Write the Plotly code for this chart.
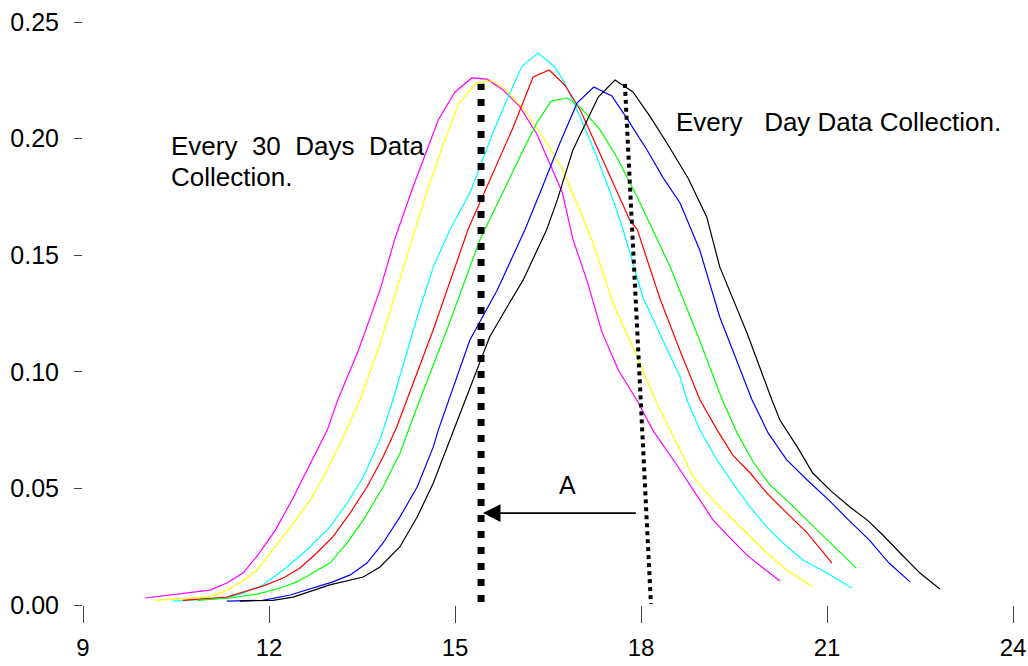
import plotly.graph_objects as go

# ---- data ----
magenta_x = [10.0, 11.05, 11.32, 11.58, 11.82, 12.10, 12.39, 12.69, 12.94, 13.11, 13.44, 13.79, 14.03, 14.32, 14.73,
             15.0, 15.27, 15.52, 15.77, 16.05, 16.32, 16.73, 16.90, 17.13, 17.37, 17.63, 17.94, 18.19, 18.63, 18.95,
             19.16, 19.44, 19.71, 19.97, 20.24]
magenta_y = [0.003, 0.0064, 0.0094, 0.0137, 0.0214, 0.032, 0.046, 0.062, 0.075, 0.088, 0.109, 0.135, 0.157, 0.179, 0.208,
             0.220, 0.226, 0.2255, 0.221, 0.2135, 0.202, 0.177, 0.157, 0.139, 0.117, 0.101, 0.0875, 0.075, 0.058, 0.045,
             0.0365, 0.0287, 0.0214, 0.0159, 0.0103]

yellow_x = [10.16, 11.0, 11.26, 11.53, 11.81, 12.06, 12.39, 12.69, 12.94, 13.15, 13.47, 13.79, 14.31, 14.52, 14.79,
            15.06, 15.35, 15.61, 15.81, 16.10, 16.42, 16.73, 16.97, 17.21, 17.55, 17.94, 18.23, 18.63, 18.84, 19.16,
            19.44, 19.71, 20.03, 20.35, 20.77]
yellow_y = [0.002, 0.0034, 0.0056, 0.0094, 0.015, 0.0236, 0.035, 0.046, 0.058, 0.0695, 0.088, 0.112, 0.1565, 0.175, 0.196,
            0.215, 0.224, 0.2247, 0.221, 0.213, 0.2007, 0.187, 0.172, 0.1565, 0.1295, 0.1063, 0.088, 0.0665, 0.055, 0.045,
            0.0377, 0.031, 0.0223, 0.015, 0.0077]

cyan_x = [10.45, 11.32, 11.58, 11.90, 12.23, 12.61, 12.98, 13.26, 13.52, 13.79, 14.0, 14.39, 14.65, 14.92, 15.24,
          15.61, 15.85, 16.08, 16.34, 16.61, 16.77, 17.02, 17.29, 17.55, 17.71, 18.03, 18.63, 18.74, 18.95, 19.23,
          19.48, 19.76, 20.03, 20.29, 20.61, 21.0, 21.4]
cyan_y = [0.0017, 0.003, 0.0051, 0.0086, 0.015, 0.0236, 0.0334, 0.0437, 0.0549, 0.0708, 0.088, 0.1235, 0.145, 0.161, 0.1767,
          0.2024, 0.2174, 0.231, 0.2367, 0.2307, 0.2238, 0.2093, 0.192, 0.1737, 0.161, 0.132, 0.0978, 0.088, 0.075, 0.062,
          0.0523, 0.042, 0.0334, 0.0266, 0.0193, 0.0137, 0.0073]

red_x = [10.61, 11.32, 11.90, 12.23, 12.50, 12.77, 13.03, 13.31, 13.58, 13.84, 14.06, 14.65, 15.21, 15.56, 15.94,
         16.26, 16.52, 16.77, 17.02, 17.29, 17.55, 17.82, 17.94, 18.31, 18.63, 18.95, 19.23, 19.48, 19.76, 20.03,
         20.35, 20.68, 21.08]
red_y = [0.002, 0.0034, 0.0081, 0.0116, 0.0159, 0.0223, 0.0292, 0.0395, 0.0506, 0.0635, 0.0763, 0.118, 0.161, 0.182, 0.205,
         0.2264, 0.2294, 0.223, 0.2123, 0.1964, 0.181, 0.165, 0.161, 0.131, 0.109, 0.088, 0.075, 0.0643, 0.0566, 0.048,
         0.0395, 0.0309, 0.018]

green_x = [10.84, 11.37, 11.81, 12.18, 12.45, 12.71, 12.98, 13.26, 13.52, 13.84, 14.11, 14.39, 14.87, 15.40, 15.73,
           16.10, 16.32, 16.55, 16.81, 17.02, 17.34, 17.61, 17.94, 18.26, 18.47, 18.90, 19.31, 19.55, 19.81, 20.08,
           20.40, 20.73, 21.05, 21.47]
green_y = [0.002, 0.003, 0.0047, 0.0073, 0.0099, 0.0137, 0.018, 0.0266, 0.0364, 0.0506, 0.065, 0.085, 0.118, 0.1565, 0.175,
           0.195, 0.2067, 0.2161, 0.2174, 0.2135, 0.2037, 0.192, 0.175, 0.1565, 0.145, 0.1166, 0.088, 0.0738, 0.0613, 0.0515,
           0.0437, 0.035, 0.0266, 0.0159]

blue_x = [11.32, 11.90, 12.34, 12.77, 13.03, 13.31, 13.58, 13.84, 14.11, 14.39, 14.65, 14.73, 15.24, 15.68, 16.13,
          16.37, 16.69, 16.97, 17.24, 17.53, 17.77, 18.10, 18.35, 18.63, 18.95, 19.27, 19.79, 20.05, 20.35, 20.68,
          21.03, 21.35, 21.68, 22.0, 22.34]
blue_y = [0.0017, 0.002, 0.0043, 0.0077, 0.0099, 0.0129, 0.018, 0.0266, 0.0377, 0.0506, 0.0678, 0.075, 0.1136, 0.135, 0.161,
          0.1767, 0.198, 0.2153, 0.2221, 0.2183, 0.2088, 0.195, 0.1835, 0.1724, 0.152, 0.1235, 0.088, 0.0738, 0.0622, 0.0536,
          0.045, 0.0364, 0.0279, 0.018, 0.0099]

black_x = [11.53, 12.06, 12.39, 12.71, 12.98, 13.52, 13.79, 14.11, 14.39, 14.65, 14.92, 15.40, 15.56, 15.84, 16.10,
           16.48, 16.65, 16.90, 17.13, 17.31, 17.58, 17.87, 18.15, 18.42, 18.76, 19.06, 19.27, 19.71, 20.11, 20.24,
           20.52, 20.77, 21.08, 21.37, 21.65, 21.90, 22.18, 22.50, 22.82]
black_y = [0.0017, 0.002, 0.0034, 0.0064, 0.0086, 0.012, 0.0163, 0.0249, 0.0377, 0.0523, 0.0708, 0.1038, 0.115, 0.1278, 0.1394,
           0.161, 0.1737, 0.195, 0.208, 0.2178, 0.2251, 0.22, 0.2093, 0.198, 0.183, 0.1664, 0.145, 0.1166, 0.088, 0.0793,
           0.0678, 0.0566, 0.0485, 0.042, 0.0364, 0.03, 0.0223, 0.0137, 0.0069]

series = [
    ("magenta", magenta_x, magenta_y, "#FF00FF"),
    ("yellow", yellow_x, yellow_y, "#FFFF00"),
    ("cyan", cyan_x, cyan_y, "#00FFFF"),
    ("red", red_x, red_y, "#FF0000"),
    ("green", green_x, green_y, "#00FF00"),
    ("blue", blue_x, blue_y, "#0000FF"),
    ("black", black_x, black_y, "#000000"),
]

# reference lines
every30_x = [15.42, 15.42]
every30_y = [0.0013, 0.2235]
everyday_x = [17.74, 18.16]
everyday_y = [0.2235, 0.0005]
arrow_from = (17.94, 0.0394)
arrow_to = (15.45, 0.0394)

x_ticks = [9, 12, 15, 18, 21, 24]
y_ticks = [0.00, 0.05, 0.10, 0.15, 0.20, 0.25]

fig = go.Figure()
for name, xs, ys, col in series:
    fig.add_trace(go.Scatter(x=xs, y=ys, mode="lines", name=name,
                             line=dict(color=col, width=1.2), hoverinfo="skip"))

fig.add_trace(go.Scatter(x=every30_x, y=every30_y, mode="lines", hoverinfo="skip",
                         line=dict(color="black", width=7, dash="7px,9px")))
fig.add_trace(go.Scatter(x=everyday_x, y=everyday_y, mode="lines", hoverinfo="skip",
                         line=dict(color="black", width=4, dash="4px,4px")))

font_main = "Liberation Sans, Arial, sans-serif"
fig.add_annotation(x=arrow_to[0], y=arrow_to[1], ax=arrow_from[0], ay=arrow_from[1],
                   xref="x", yref="y", axref="x", ayref="y", text="",
                   showarrow=True, arrowhead=2, arrowsize=2.2, arrowwidth=1.6, arrowcolor="black")
fig.add_annotation(x=16.81, y=0.0515, xref="x", yref="y", text="A", showarrow=False,
                   font=dict(family=font_main, size=25, color="black"))
fig.add_annotation(x=10.39, y=0.1968, xref="x", yref="y", xanchor="left",
                   text="Every\u00a0\u00a030\u00a0\u00a0Days\u00a0\u00a0Data", showarrow=False,
                   font=dict(family=font_main, size=26, color="black"))
fig.add_annotation(x=10.39, y=0.1835, xref="x", yref="y", xanchor="left",
                   text="Collection.", showarrow=False,
                   font=dict(family=font_main, size=26, color="black"))
fig.add_annotation(x=18.53, y=0.2071, xref="x", yref="y", xanchor="left",
                   text="Every\u00a0\u00a0 Day Data Collection.", showarrow=False,
                   font=dict(family=font_main, size=26, color="black"))

fig.update_layout(
    width=1028, height=666,
    margin=dict(l=83, r=15, t=22, b=61),
    paper_bgcolor="white", plot_bgcolor="white",
    showlegend=False,
    xaxis=dict(range=[9, 24], tickvals=x_ticks, ticktext=[str(v) for v in x_ticks],
               showgrid=False, zeroline=False, showline=False, automargin=False,
               ticks="outside", ticklen=17, tickwidth=1, tickcolor="#444",
               tickfont=dict(family="Liberation Sans Narrow, Arial Narrow, Arial, sans-serif", size=24, color="black"),
               ticklabelstandoff=4, ticklabeloverflow="allow"),
    yaxis=dict(range=[0, 0.25], tickvals=y_ticks, ticktext=[f"{v:.2f}" for v in y_ticks],
               showgrid=False, zeroline=False, showline=False, automargin=False,
               ticks="outside", ticklen=8, tickwidth=1, tickcolor="#444",
               tickfont=dict(family=font_main, size=25, color="black"),
               ticklabelstandoff=10, ticklabeloverflow="allow"),
)

# remove the default 8px page margin so the 1028x666 figure fills the window exactly
fig.write_html("out.html", config={"displayModeBar": False},
               post_script="document.body.style.margin='0px';document.body.style.overflow='hidden';")
